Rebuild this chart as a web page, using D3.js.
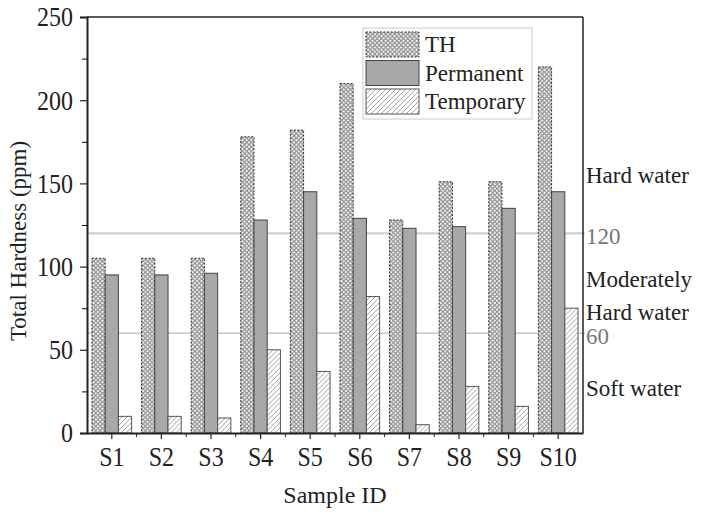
<!DOCTYPE html>
<html>
<head>
<meta charset="utf-8">
<script src="https://cdn.jsdelivr.net/npm/d3@7"></script>
<style>
  body { margin: 0; background: #fff; }
  svg { display: block; font-family: "Liberation Serif", "Times New Roman", serif; }
</style>
</head>
<body>
<svg id="chart" width="705" height="514"></svg>
<script>
// données
const samples = ["S1", "S2", "S3", "S4", "S5", "S6", "S7", "S8", "S9", "S10"];
const seriesNames = ["TH", "Permanent", "Temporary"];
const thValues = [105, 105, 105, 178, 182, 210, 128, 151, 151, 220];
const permanentValues = [95, 95, 96, 128, 145, 129, 123, 124, 135, 145];
const temporaryValues = [10, 10, 9, 50, 37, 82, 5, 28, 16, 75];
const yTicks = [0, 50, 100, 150, 200, 250];
const limits = [120, 60];
const zoneLabels = [
  { text: "Hard water", value: 150 },
  { text: "Moderately", value: 88 },
  { text: "Hard water", value: 68 },
  { text: "Soft water", value: 22 }
];

const margin = { top: 17, right: 122, bottom: 81, left: 87 };
const W = 705, H = 514;
const w = W - margin.left - margin.right;
const h = H - margin.top - margin.bottom;

const svg = d3.select("#chart");
const defs = svg.append("defs");

// motif quadrillé (TH)
let pTH = defs.append("pattern")
  .attr("id", "patTH").attr("patternUnits", "userSpaceOnUse")
  .attr("width", 4.4).attr("height", 4.4);
pTH.append("rect").attr("width", 4.4).attr("height", 4.4).attr("fill", "#fff");
pTH.append("path").attr("d", "M0,0L4.4,4.4M4.4,0L0,4.4")
  .attr("stroke", "#8c8c8c").attr("stroke-width", 1.1);

// motif hachuré (Temporary)
let pTmp = defs.append("pattern")
  .attr("id", "patTmp").attr("patternUnits", "userSpaceOnUse")
  .attr("width", 5).attr("height", 5);
pTmp.append("rect").attr("width", 5).attr("height", 5).attr("fill", "#fff");
pTmp.append("path").attr("d", "M-1,6L6,-1M-1,1L1,-1M4,6L6,4")
  .attr("stroke", "#9a9a9a").attr("stroke-width", 0.9);

const styles = [
  { fill: "url(#patTH)", stroke: "#333", dash: "2,1.5" },
  { fill: "#a8a8a8", stroke: "#444", dash: null },
  { fill: "url(#patTmp)", stroke: "#555", dash: null }
];

const g = svg.append("g").attr("transform", `translate(${margin.left},${margin.top})`);

const x = d3.scaleBand().domain(samples).range([0, w]).paddingInner(0).paddingOuter(0);
const xInner = d3.scaleBand().domain(seriesNames).range([x.bandwidth() * 0.1, x.bandwidth() * 0.9]);
const y = d3.scaleLinear().domain([0, 250]).range([h, 0]);

const rows = samples.map((s, i) => ({
  sample: s,
  vals: [thValues[i], permanentValues[i], temporaryValues[i]]
}));

//Lignes de seuil
g.selectAll(".limite")
  .data(limits)
  .enter().append("line")
  .attr("x1", 0).attr("x2", w + 2)
  .attr("y1", d => y(d)).attr("y2", d => y(d))
  .attr("stroke", (d, i) => i === 0 ? "#cfcfcf" : "#aaaaaa")
  .attr("stroke-width", (d, i) => i === 0 ? 2.2 : 1);

//Barres
const groups = g.selectAll(".grp")
  .data(rows)
  .enter().append("g")
  .attr("transform", d => `translate(${x(d.sample)},0)`);

groups.selectAll("rect")
  .data(d => d.vals.map((v, k) => ({ v: v, k: k })))
  .enter().append("rect")
  .attr("x", d => xInner(seriesNames[d.k]))
  .attr("width", xInner.bandwidth())
  .attr("y", d => y(d.v))
  .attr("height", d => h - y(d.v))
  .attr("fill", d => styles[d.k].fill)
  .attr("stroke", d => styles[d.k].stroke)
  .attr("stroke-width", 1)
  .attr("stroke-dasharray", d => styles[d.k].dash);

//Cadre
g.append("line").attr("x1", 0).attr("x2", w).attr("y1", 0).attr("y2", 0)
  .attr("stroke", "#222").attr("stroke-width", 1.5);
g.append("line").attr("x1", w).attr("x2", w).attr("y1", 0).attr("y2", h)
  .attr("stroke", "#222").attr("stroke-width", 1.5);

//Axe y
const yAxis = g.append("g")
  .call(d3.axisLeft(y).tickValues(yTicks).tickSize(7).tickPadding(7));
g.append("g")
  .call(d3.axisLeft(y).tickValues(d3.range(25, 250, 50)).tickSize(5).tickFormat(""))
  .select(".domain").remove();

//Axe x
const xAxis = g.append("g")
  .attr("transform", `translate(0,${h})`)
  .call(d3.axisBottom(x).tickSize(6).tickPadding(6).tickSizeOuter(0));
g.append("g")
  .attr("transform", `translate(0,${h})`)
  .selectAll("line")
  .data(samples.slice(1))
  .enter().append("line")
  .attr("x1", d => x(d)).attr("x2", d => x(d))
  .attr("y1", 0).attr("y2", 4)
  .attr("stroke", "#222");

[yAxis, xAxis].forEach(a => {
  a.select(".domain").attr("stroke", "#222").attr("stroke-width", 2);
  a.selectAll(".tick line").attr("stroke", "#222").attr("stroke-width", 1.2);
  a.selectAll("text")
    .style("font-family", "Liberation Serif")
    .style("font-size", "24px")
    .attr("transform", "scale(1,1.15)")
    .attr("fill", "#222");
});

//Etiquettes de seuil
g.selectAll(".lab_limite")
  .data(limits)
  .enter().append("text")
  .attr("x", w + 3)
  .attr("y", d => y(d) + 11)
  .style("font-size", "23px")
  .attr("fill", "#777")
  .text(d => d);

g.selectAll(".zone")
  .data(zoneLabels)
  .enter().append("text")
  .attr("x", w + 3)
  .attr("y", d => y(d.value))
  .style("font-size", "23px")
  .attr("fill", "#222")
  .text(d => d.text);

//Titres des axes
svg.append("text")
  .attr("transform", `translate(26,241) rotate(-90)`)
  .attr("text-anchor", "middle")
  .style("font-size", "23px")
  .attr("fill", "#222")
  .text("Total Hardness (ppm)");

svg.append("text")
  .attr("x", margin.left + w / 2)
  .attr("y", 503)
  .attr("text-anchor", "middle")
  .style("font-size", "24px")
  .attr("fill", "#222")
  .text("Sample ID");

//Légende
const lg = svg.append("g").attr("transform", "translate(363,28)");
lg.append("rect").attr("width", 169).attr("height", 91)
  .attr("fill", "#fff").attr("stroke", "#ccc").attr("stroke-width", 1);
const entries = lg.selectAll(".legend_entree")
  .data(seriesNames)
  .enter().append("g")
  .attr("transform", (d, i) => `translate(3,${4 + i * 28.5})`);
entries.append("rect")
  .attr("width", 53).attr("height", 25)
  .attr("fill", (d, i) => styles[i].fill)
  .attr("stroke", (d, i) => styles[i].stroke)
  .attr("stroke-dasharray", (d, i) => styles[i].dash)
  .attr("stroke-width", 1);
entries.append("text")
  .attr("x", 59).attr("y", 20)
  .style("font-size", "23px")
  .attr("fill", "#222")
  .text(d => d);
</script>
</body>
</html>
